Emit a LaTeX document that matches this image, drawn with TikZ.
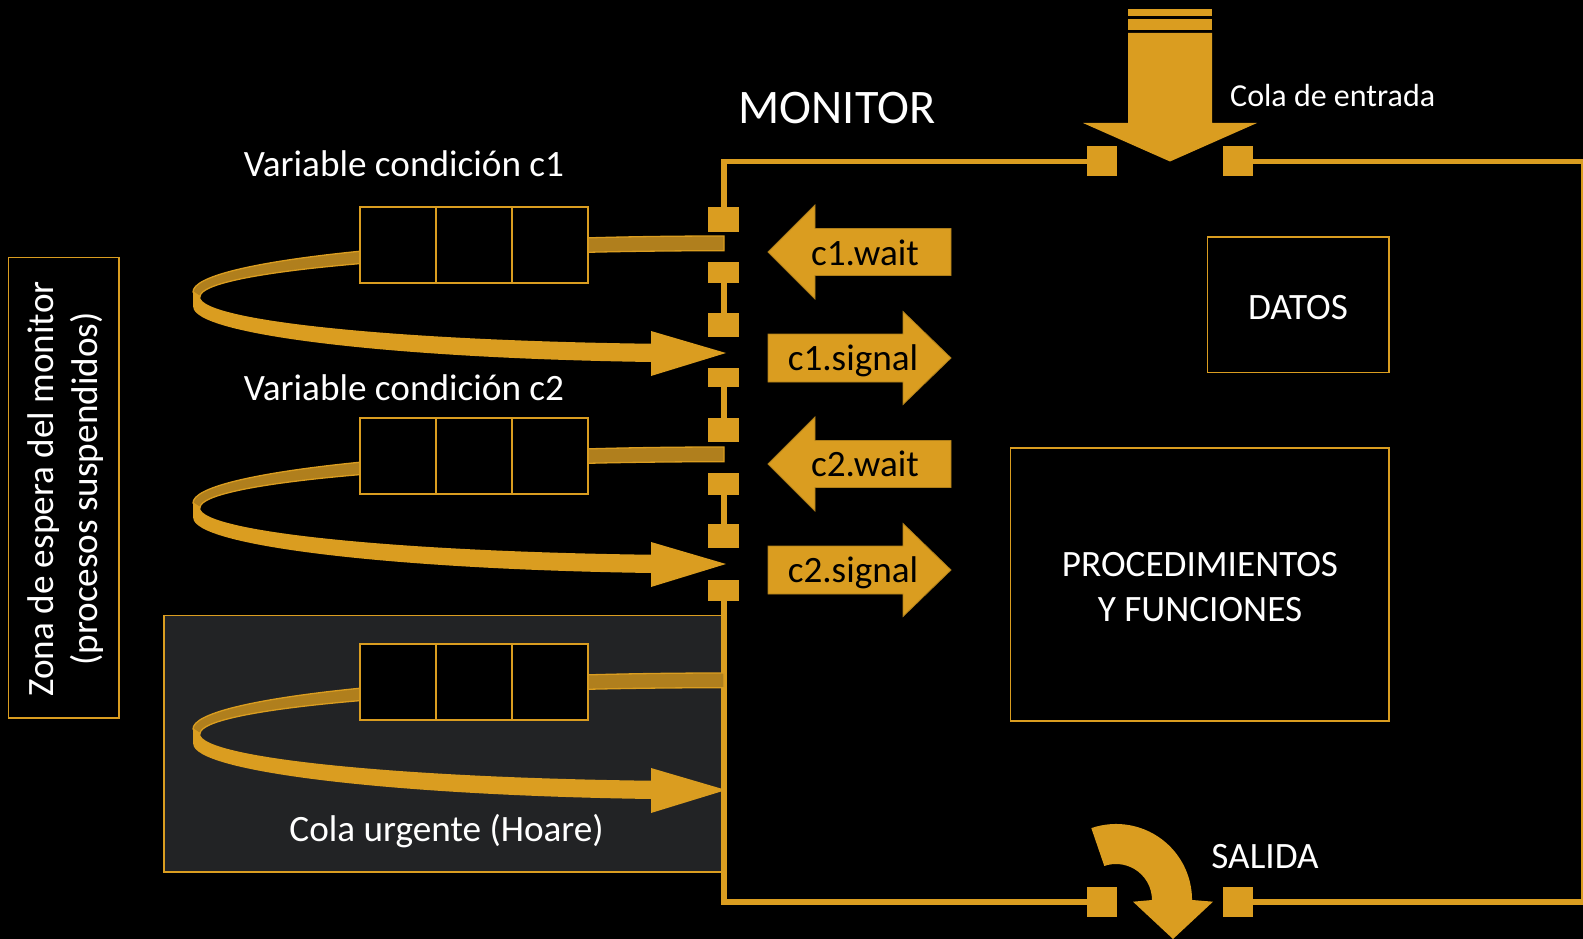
\documentclass[tikz,border=0pt]{standalone}
\usepackage{fontspec}
\setmainfont{Carlito}
\definecolor{gold}{HTML}{DA9D20}
\definecolor{golddark}{HTML}{B07F1D}
\definecolor{panel}{HTML}{222325}
\begin{document}
\begin{tikzpicture}[x=1pt,y=-1pt,
  wall/.style={gold, line width=5.5},
  frame/.style={draw=gold, line width=1.6},
  txt/.style={text=white, inner sep=0pt, font=\fontsize{37.2}{44}\selectfont},
  btxt/.style={text=black, inner sep=0pt, font=\fontsize{37.2}{44}\selectfont},
  opbox/.style={fill=gold, draw=gold!80!black, line width=0.8}]
\fill[black] (0,0) rectangle (1583,939);
\useasboundingbox (0,0) rectangle (1583,939);

% urgent queue panel and left box
\filldraw[fill=panel, frame] (164,615.5) rectangle (722,872);
\draw[frame] (8.5,257.5) rectangle (119,718);

% monitor frame
\draw[wall] (1087,161.5) -- (724,161.5) -- (724,207);
\draw[wall] (724,283) -- (724,313);
\draw[wall] (724,387) -- (724,418);
\draw[wall] (724,495) -- (724,524);
\draw[wall] (724,601) -- (724,902) -- (1087,902);
\draw[wall] (1253,161.5) -- (1583,161.5);
\draw[wall] (1253,902) -- (1583,902);
\draw[gold, line width=1.5] (1582,161.5) -- (1582,902);

% wall squares
\foreach \a/\b in {207/232,262/283,313/337,368/387,418/442,473/495,524/548,580/601}
  \fill[gold] (708,\a) rectangle (739,\b);
\fill[gold] (1087,146) rectangle (1117,176);
\fill[gold] (1223,146) rectangle (1253,176);
\fill[gold] (1087,887) rectangle (1117,917);
\fill[gold] (1223,887) rectangle (1253,917);

% queues with curved arrows
\foreach \dy in {0,211,437}{
\begin{scope}[shift={(0,\dy)}]
  \filldraw[fill=golddark, draw=gold, line width=1.3]
    (724,236) arc[start angle=-90, end angle=-180, x radius=531, y radius=56]
    -- (200,296.7) arc[start angle=-180, end angle=-90, x radius=524, y radius=46] -- cycle;
  \filldraw[fill=black, frame] (360,207) rectangle (588,283);
  \draw[frame] (436,207) -- (436,283) (512,207) -- (512,283);
  \fill[gold]
    (193,292) -- (200,296.7) arc[start angle=180, end angle=98, x radius=524, y radius=47.5]
    -- (651,362) arc[start angle=97.9, end angle=180, x radius=530.7, y radius=55.8] -- cycle;
  \fill[gold] (651,331) -- (726,353) -- (651,376) -- cycle;
\end{scope}
}

% wait / signal arrows
\foreach \c in {252,464}
  \filldraw[opbox] (768,\c) -- (815,\c-47) -- (815,\c-23.5) -- (951,\c-23.5)
    -- (951,\c+23.5) -- (815,\c+23.5) -- (815,\c+47) -- cycle;
\foreach \c in {358,570}
  \filldraw[opbox] (768,\c-24) -- (903,\c-24) -- (903,\c-46.5) -- (951,\c)
    -- (903,\c+46.5) -- (903,\c+24) -- (768,\c+24) -- cycle;
\node[btxt, anchor=base] (c1w) at (865,265) {c1.wait};
\node[btxt, anchor=base] (c1s) at (853,370) {c1.signal};
\node[btxt, anchor=base] (c2w) at (865,476.5) {c2.wait};
\node[btxt, anchor=base] (c2s) at (853,582) {c2.signal};

% entrance arrow
\fill[gold] (1128,9) rectangle (1212,16);
\fill[gold] (1128,19) rectangle (1212,30);
\fill[gold] (1128,33) -- (1212,33) -- (1212,123) -- (1257,123) -- (1170,161.5)
  -- (1083,123) -- (1128,123) -- cycle;

% exit arrow
\fill[gold] (1091.3,828.1) arc[start angle=-109, end angle=0, radius=76]
  -- (1213,901.7) -- (1173,939) -- (1133,901.7) -- (1152,900)
  arc[start angle=0, end angle=-109, radius=36] -- cycle;

% inner boxes
\draw[frame] (1207.5,237) rectangle (1389,372.5);
\draw[frame] (1010.6,448) rectangle (1389,721);

% texts
\node[txt, anchor=base, font=\fontsize{48.2}{56}\selectfont] (monitor) at (837,124) {MONITOR};
\node[txt, anchor=base west, font=\fontsize{32}{38}\selectfont] (entrada) at (1230,107) {Cola de entrada};
\node[txt, anchor=base] (vc1) at (404,177) {Variable condición c1};
\node[txt, anchor=base] (vc2) at (404,400.5) {Variable condición c2};
\node[txt, anchor=base] (datos) at (1298,319.5) {DATOS};
\node[txt, anchor=base] (proc1) at (1200,576.5) {PROCEDIMIENTOS};
\node[txt, anchor=base] (proc2) at (1200,621) {Y FUNCIONES};
\node[txt, anchor=base] (salida) at (1265,868) {SALIDA};
\node[txt, anchor=base] (urg) at (446.6,841) {Cola urgente (Hoare)};
\node[txt, anchor=base, rotate=90] (zona1) at (53,489) {Zona de espera del monitor};
\node[txt, anchor=base, rotate=90] (zona2) at (97,489) {(procesos suspendidos)};
\end{tikzpicture}
\end{document}
